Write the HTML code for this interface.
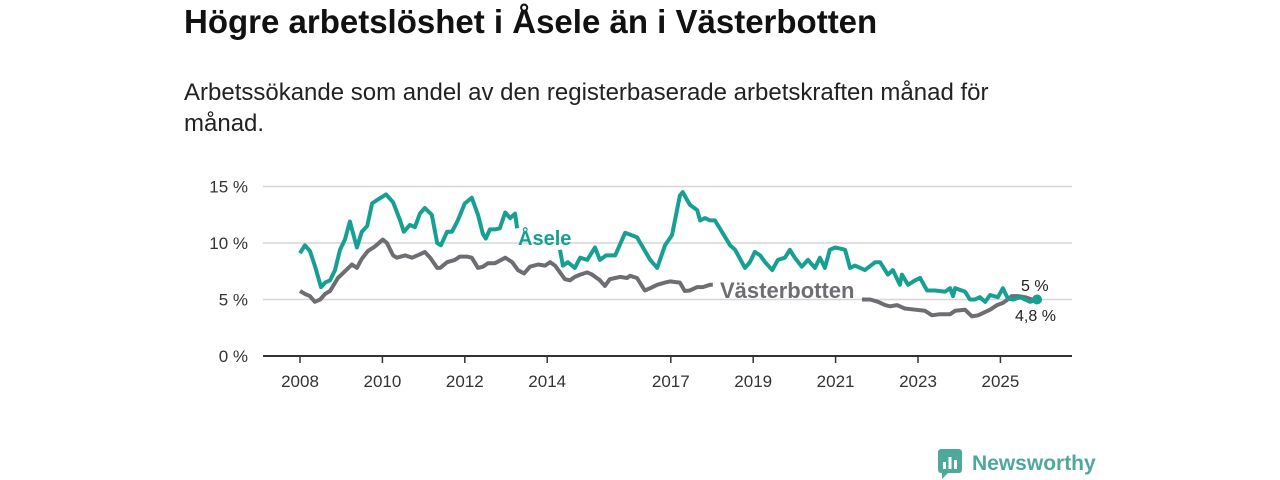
<!DOCTYPE html>
<html><head><meta charset="utf-8">
<style>
body{margin:0;width:1280px;height:480px;background:#fff;font-family:"Liberation Sans",sans-serif;overflow:hidden;position:relative}
h1{position:absolute;left:184px;top:3px;margin:0;font-size:33px;font-weight:bold;color:#111}
p{position:absolute;left:184px;top:77px;margin:0;font-size:24px;line-height:31px;color:#222;width:850px}
svg{position:absolute;left:0;top:0}
</style></head><body>
<h1>Högre arbetslöshet i Åsele än i Västerbotten</h1>
<p>Arbetssökande som andel av den registerbaserade arbetskraften månad för månad.</p>
<svg id="chart" width="1280" height="480"></svg>
<script>
const yTicks=[0,5,10,15];
const xTicks=[2008,2010,2012,2014,2017,2019,2021,2023,2025];
const aseleYears=[2008.00,2008.12,2008.24,2008.36,2008.51,2008.61,2008.73,2008.85,2008.97,2009.09,2009.21,2009.38,2009.50,2009.63,2009.75,2009.87,2010.09,2010.26,2010.43,2010.52,2010.67,2010.79,2010.91,2011.03,2011.20,2011.33,2011.42,2011.57,2011.69,2011.83,2012.00,2012.17,2012.32,2012.44,2012.51,2012.61,2012.73,2012.85,2012.98,2013.10,2013.22,2013.27,null,2014.31,2014.38,2014.50,2014.67,2014.80,2014.97,2015.16,2015.28,2015.43,2015.65,2015.89,2016.18,2016.50,2016.67,2016.86,2017.03,2017.22,2017.29,2017.46,2017.64,2017.71,2017.83,2017.95,2018.07,2018.19,2018.44,2018.56,2018.80,2018.92,2019.04,2019.17,2019.29,2019.46,2019.60,2019.77,2019.89,2020.01,2020.18,2020.33,2020.50,2020.62,2020.74,2020.86,2020.99,2021.11,2021.23,2021.35,2021.47,2021.71,2021.96,2022.08,2022.27,2022.39,2022.56,2022.61,2022.76,2022.93,2023.05,2023.22,2023.41,2023.66,2023.78,2023.85,2023.90,2024.14,2024.26,2024.38,2024.50,2024.63,2024.75,2024.94,2025.06,2025.18,2025.31,2025.48,2025.60,2025.72,2025.89];
const aseleValues=[9.1,9.8,9.3,8.0,6.1,6.5,6.7,7.6,9.4,10.3,11.9,9.6,11.0,11.5,13.5,13.8,14.3,13.6,12.0,11.0,11.6,11.4,12.6,13.1,12.5,10.0,9.8,11.0,11.0,12.0,13.5,14.0,12.5,10.8,10.4,11.2,11.2,11.3,12.7,12.2,12.6,11.3,null,9.4,8.0,8.3,7.8,8.7,8.5,9.6,8.5,8.9,8.9,10.9,10.5,8.5,7.8,9.8,10.7,14.2,14.5,13.4,12.9,12.0,12.2,12.0,12.0,11.3,9.8,9.4,7.8,8.3,9.2,8.9,8.3,7.6,8.5,8.7,9.4,8.7,7.9,8.5,7.8,8.7,7.8,9.4,9.6,9.5,9.4,7.8,8.0,7.6,8.3,8.3,7.2,7.6,6.3,7.2,6.3,6.7,6.9,5.8,5.8,5.7,6.0,5.3,6.0,5.7,5.0,5.0,5.2,4.8,5.4,5.2,6.0,5.1,5.0,5.2,5.0,4.8,5.0];
const vbYears=[2008.00,2008.12,2008.24,2008.36,2008.49,2008.61,2008.73,2008.92,2009.09,2009.26,2009.38,2009.50,2009.65,2009.82,2010.01,2010.11,2010.26,2010.35,2010.55,2010.72,2010.91,2011.03,2011.16,2011.33,2011.40,2011.57,2011.76,2011.88,2012.05,2012.17,2012.32,2012.44,2012.56,2012.73,2012.98,2013.15,2013.29,2013.44,2013.58,2013.78,2013.95,2014.07,2014.19,2014.31,2014.43,2014.55,2014.67,2014.80,2014.97,2015.09,2015.28,2015.40,2015.52,2015.65,2015.77,2015.94,2016.01,2016.18,2016.37,2016.50,2016.67,2016.86,2016.98,2017.22,2017.34,2017.46,2017.64,2017.78,2017.95,2018.02,null,2021.64,2021.84,2022.03,2022.20,2022.32,2022.49,2022.68,2022.93,2023.17,2023.34,2023.53,2023.78,2023.90,2024.14,2024.31,2024.46,2024.63,2024.75,2024.92,2025.06,2025.18,2025.28,2025.43,2025.60,2025.77,2025.89];
const vbValues=[5.75,5.5,5.3,4.8,5.0,5.5,5.75,6.9,7.5,8.1,7.8,8.6,9.3,9.7,10.3,10.0,8.9,8.7,8.9,8.7,9.0,9.2,8.7,7.8,7.8,8.3,8.5,8.8,8.8,8.7,7.8,7.9,8.2,8.2,8.7,8.3,7.6,7.3,7.9,8.1,8.0,8.3,8.0,7.4,6.8,6.7,7.0,7.2,7.4,7.2,6.7,6.2,6.8,6.9,7.0,6.9,7.1,6.9,5.8,6.0,6.3,6.5,6.6,6.5,5.75,5.8,6.1,6.1,6.3,6.3,null,5.0,5.0,4.8,4.5,4.4,4.5,4.2,4.1,4.0,3.6,3.7,3.7,4.0,4.1,3.5,3.6,3.9,4.1,4.5,4.7,5.0,5.3,5.3,5.2,5.0,4.8];
const NS='http://www.w3.org/2000/svg';
const svg=document.getElementById('chart');
const X=y=>300+(y-2008)*41.2;
const Y=v=>356-v*11.3;
function mk(tag,attrs,parent){const e=document.createElementNS(NS,tag);for(const k in attrs)e.setAttribute(k,attrs[k]);(parent||svg).appendChild(e);return e;}
yTicks.forEach(t=>{
  const g=mk('line',{x1:263,x2:1072,y1:Y(t),y2:Y(t),stroke:'#d6d6d6','stroke-width':1.5});
  
  
  const tx=mk('text',{x:248,y:Y(t)+6,'text-anchor':'end','font-size':17,fill:'#333'});
  tx.textContent=t+' %';
  
  
});
const ax=mk('line',{x1:263,x2:1072,y1:356,y2:356,stroke:'#333','stroke-width':2});


xTicks.forEach(t=>{
  const tk=mk('line',{x1:X(t),x2:X(t),y1:356,y2:363,stroke:'#333','stroke-width':1.5});
  
  
  const tx=mk('text',{x:X(t),y:387,'text-anchor':'middle','font-size':17,fill:'#333'});
  tx.textContent=t;
  
  
});
function path(xs,vs){let d='',pen=false;xs.forEach((x,i)=>{if(x===null||vs[i]===null){pen=false;return;}d+=(pen?'L':'M')+X(x).toFixed(1)+','+Y(vs[i]).toFixed(1);pen=true;});return d;}
const vl=mk('path',{d:path(vbYears,vbValues),fill:'none',stroke:'#6e6d72','stroke-width':4,'stroke-linejoin':'round'});


const al=mk('path',{d:path(aseleYears,aseleValues),fill:'none',stroke:'#17a092','stroke-width':4,'stroke-linejoin':'round'});


const ea=mk('circle',{cx:X(aseleYears[aseleYears.length-1]),cy:Y(aseleValues[aseleValues.length-1]),r:5,fill:'#17a092'});


const l1=mk('text',{x:518,y:245,'font-size':20,'font-weight':'bold',fill:'#17a092'});l1.textContent='Åsele';


const l2=mk('text',{x:720,y:298,'font-size':22,'font-weight':'bold',fill:'#6e6d72'});l2.textContent='Västerbotten';


const v1=mk('text',{x:1021,y:291,'font-size':16,fill:'#222'});v1.textContent='5 %';


const v2=mk('text',{x:1015,y:321,'font-size':16,fill:'#222'});v2.textContent='4,8 %';


</script>
<div style="position:absolute;left:938px;top:449px;display:flex;align-items:center;gap:8px">
  <svg width="26" height="30" viewBox="0 0 26 30" style="position:static"><rect x="0" y="0" width="24" height="24" rx="3" fill="#4fa89c"/><polygon points="4,24 10,24 4,30" fill="#4fa89c"/><rect x="5" y="13" width="3" height="7" fill="#fff"/><rect x="10.5" y="8" width="3" height="12" fill="#fff"/><rect x="16" y="11" width="3" height="9" fill="#fff"/></svg>
  <span style="font-size:21px;font-weight:bold;color:#4fa89c">Newsworthy</span>
</div>
</body></html>
